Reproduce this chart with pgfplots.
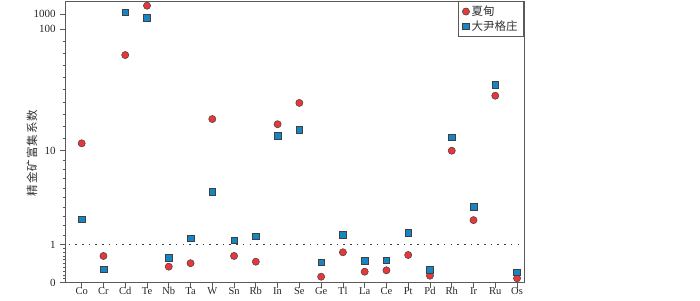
\documentclass[border=0pt]{standalone}
\usepackage{fontspec}
\setmainfont{Liberation Serif}
\newfontfamily\cjk{Noto Sans CJK SC}
\usepackage{pgfplots}
\pgfplotsset{compat=1.18}
\usepackage{pgfplotstable}

\definecolor{xdred}{HTML}{E8373A}
\definecolor{dygblue}{HTML}{1685C5}
\definecolor{axgray}{HTML}{5A5A5A}

% values: enrichment coefficient (concentrate / ore)
\pgfplotstableread{
x el xd dyg
0 Co 11.5 1.86
1 Cr 0.70 0.35
2 Cd 61.1 1298
3 Te 3575 541
4 Nb 0.42 0.65
5 Ta 0.51 1.17
6 W 18.2 3.63
7 Sn 0.70 1.11
8 Rb 0.55 1.23
9 In 16.5 13.2
10 Se 24.7 14.8
11 Ge 0.157 0.534
12 Tl 0.796 1.263
13 La 0.288 0.568
14 Ce 0.325 0.586
15 Pt 0.725 1.326
16 Pd 0.183 0.332
17 Rh 10.0 12.9
18 Ir 1.82 2.53
19 Ru 28.3 34.7
20 Os 0.115 0.272
}\data

% piecewise axis scale of the original figure: 0-1 linear, then log decades of unequal length
\newcommand{\tr}[1]{38.2*min(#1,1)+93.8*0.4342945*ln(min(max(#1,1),10))+121.7*0.4342945*ln(min(max(#1,10),100)/10)+15*0.4342945*ln(max(#1,100)/100)}

\begin{document}
\begin{tikzpicture}
\path[use as bounding box] (-65.7pt,-17.3pt) rectangle (634.3pt,282.7pt);
\begin{axis}[
  scale only axis,
  width=458.3pt, height=281.7pt,
  xmin=-0.735, xmax=20.32, ymin=0, ymax=281.7,
  clip=false,
  xtick={0,...,20},
  xticklabels={Co,Cr,Cd,Te,Nb,Ta,W,Sn,Rb,In,Se,Ge,Tl,La,Ce,Pt,Pd,Rh,Ir,Ru,Os},
  ytick={0,38.2,132,253.7,268.7},
  yticklabels={0,1,10,100,1000},
  minor ytick={3.82,7.64,11.46,15.28,19.1,22.92,26.74,30.56,34.38,
    47.58,56.96,66.34,75.72,85.1,94.48,103.86,113.24,122.62,
    144.17,156.34,168.51,180.68,192.85,205.02,217.19,229.36,241.53},
  tick align=outside, xtick pos=bottom, ytick pos=left,
  major tick length=5.5pt, minor tick length=3pt,
  axis line style={axgray, line width=0.9pt},
  every tick/.style={axgray, line width=0.8pt},
  ticklabel style={font=\fontsize{11}{12}\selectfont, text=black!85},
  xticklabel style={font=\fontsize{10.5}{12}\selectfont, yshift=2pt, inner ysep=1pt},
  yticklabel style={xshift=-1pt},
  ylabel={\cjk 精\hspace{1pt}金\hspace{1pt}矿\hspace{1pt}富\hspace{1pt}集\hspace{1pt}系\hspace{1pt}数},
  every axis y label/.style={at={([xshift=-33.7pt]rel axis cs:0,0.46)}, rotate=90, anchor=center, font=\fontsize{11.5}{12}\selectfont, text=black!80},
  legend style={at={(rel axis cs:1,1)}, anchor=north east, draw=axgray, line width=0.9pt,
    font=\cjk\fontsize{11.5}{13}\selectfont, text=black!80, inner xsep=4pt, inner ysep=2.5pt,
    row sep=-0.5pt, cells={anchor=west}},
  legend image code/.code={\draw[#1, line width=0.5pt] plot coordinates {(3pt,0pt)};},
]
\addplot[only marks, mark=*, mark size=3.6pt, mark options={fill=xdred, draw=black!75, line width=0.5pt}]
  table[x=x, y expr={\tr{\thisrow{xd}}}] {\data};
\addlegendentry{夏甸}
\addplot[only marks, mark=square*, mark size=3.3pt, mark options={fill=dygblue, draw=black!75, line width=0.5pt}]
  table[x=x, y expr={\tr{\thisrow{dyg}}}] {\data};
\addlegendentry{大尹格庄}
\addplot[forget plot, black!75, line width=1.3pt, dash pattern=on 1.6pt off 5.1pt]
  coordinates {(-0.6,38.2) (20.32,38.2)};
\end{axis}
\end{tikzpicture}
\end{document}
